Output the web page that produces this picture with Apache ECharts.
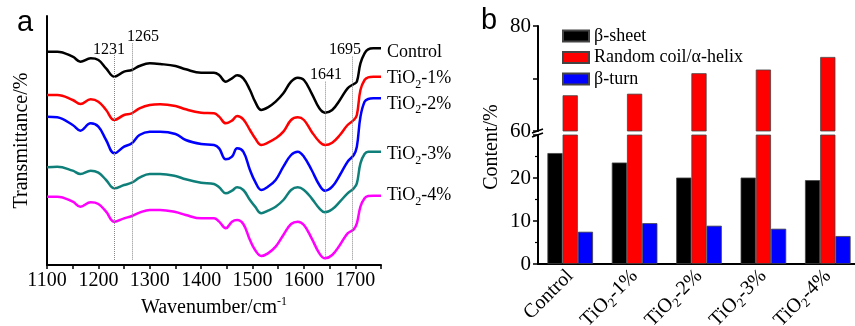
<!DOCTYPE html>
<html>
<head>
<meta charset="utf-8">
<script src="https://cdn.jsdelivr.net/npm/echarts@6/dist/echarts.min.js"></script>
<style>
  html, body { margin: 0; padding: 0; background: #fff; }
  #main { width: 855px; height: 326px; }
</style>
</head>
<body>
<div id="main"></div>
<script>
// panel a: FTIR spectra (transmittance, arbitrary offset units)
const wavenumbers = [1100, 1120, 1150, 1165, 1185, 1200, 1215, 1231, 1250, 1265, 1280, 1300, 1320, 1350, 1370, 1400, 1425, 1435, 1448, 1460, 1470, 1482, 1495, 1505, 1517, 1530, 1545, 1560, 1575, 1588, 1600, 1615, 1630, 1641, 1655, 1670, 1685, 1697, 1703, 1710, 1718, 1725, 1735, 1750];
const control = [645, 645, 630, 615, 625, 620, 595, 570, 585, 590, 602, 610, 608, 602, 592, 582, 582, 575, 555, 565, 574, 565, 530, 495, 470, 478, 495, 520, 555, 567, 560, 520, 475, 462, 470, 500, 535, 548, 555, 610, 640, 652, 655, 655];
const tio1 = [515, 515, 500, 488, 502, 495, 470, 440, 455, 460, 475, 485, 487, 482, 472, 462, 460, 450, 430, 438, 452, 442, 410, 385, 365, 372, 385, 405, 440, 448, 440, 405, 375, 365, 372, 395, 425, 440, 455, 530, 560, 568, 570, 570];
const tio2 = [450, 448, 425, 408, 430, 420, 380, 340, 360, 370, 395, 405, 405, 398, 380, 368, 365, 355, 322, 330, 355, 345, 290, 255, 230, 240, 260, 300, 335, 345, 330, 290, 245, 228, 240, 275, 315, 335, 360, 450, 495, 503, 505, 505];
const tio3 = [298, 300, 288, 278, 288, 282, 260, 235, 245, 252, 267, 278, 278, 272, 262, 252, 248, 238, 220, 228, 238, 230, 200, 180, 160, 168, 180, 200, 230, 238, 230, 205, 175, 163, 172, 195, 220, 235, 250, 310, 338, 345, 345, 345];
const tio4 = [210, 210, 195, 180, 193, 188, 165, 135, 145, 152, 162, 170, 170, 164, 155, 145, 145, 135, 115, 135, 140, 128, 80, 50, 32, 40, 60, 95, 128, 135, 125, 85, 40, 25, 35, 65, 100, 112, 130, 180, 205, 212, 213, 213];
const peaks = [1231, 1265, 1641, 1695];
const peakTops = [635, 670, 555, 630];

// panel b: secondary structure content (%)
const groups = ['Control', 'TiO2-1%', 'TiO2-2%', 'TiO2-3%', 'TiO2-4%'];
const sheet = [25.8, 23.6, 20.1, 20.1, 19.5];
const coil = [66.8, 67.1, 71.0, 71.7, 74.1];
const turn = [7.5, 9.5, 8.9, 8.2, 6.5];

const serif = 'Liberation Serif';
const sampleName = s => s.startsWith('TiO2') ? '{a|TiO}{s|2}{a|' + s.slice(4) + '}' : '{a|' + s + '}';

const chart = echarts.init(document.getElementById('main'), null, { renderer: 'canvas' });

function spectrum(name, arr, color, dy) {
  return {
    name: name,
    type: 'line',
    xAxisIndex: 0,
    yAxisIndex: 0,
    data: wavenumbers.map((w, i) => [w, arr[i]]),
    smooth: 0.4,
    showSymbol: false,
    lineStyle: { color: color, width: 2.5 },
    itemStyle: { color: color },
    endLabel: {
      show: true,
      distance: 6,
      offset: [0, dy],
      formatter: () => sampleName(name),
      rich: {
        a: { fontFamily: serif, fontSize: 18, color: '#000' },
        s: { fontFamily: serif, fontSize: 12, color: '#000', padding: [12, 0, 0, 0] }
      }
    }
  };
}

const barBorder = { borderColor: '#444', borderWidth: 0.8 };
const axisFont = { fontFamily: serif, color: '#000' };

const series = [
  spectrum('Control', control, '#000000', 4),
  spectrum('TiO2-1%', tio1, '#ff0000', 2),
  spectrum('TiO2-2%', tio2, '#0000ff', 6),
  spectrum('TiO2-3%', tio3, '#0f7f7a', 3),
  spectrum('TiO2-4%', tio4, '#ff00ff', 0),
  {
    name: 'β-sheet', type: 'bar', xAxisIndex: 2, yAxisIndex: 2, data: sheet,
    barWidth: 15.2, barGap: '0%',
    itemStyle: Object.assign({ color: '#000000' }, barBorder)
  },
  {
    name: 'Random coil/α-helix', type: 'bar', xAxisIndex: 2, yAxisIndex: 2, data: coil,
    barWidth: 15.2, barGap: '0%',
    itemStyle: Object.assign({ color: '#ff0000' }, barBorder)
  },
  {
    name: 'β-turn', type: 'bar', xAxisIndex: 2, yAxisIndex: 2, data: turn,
    barWidth: 15.2, barGap: '0%',
    itemStyle: Object.assign({ color: '#0000ff' }, barBorder)
  },
  {
    name: 'Random coil/α-helix', type: 'bar', xAxisIndex: 1, yAxisIndex: 1, data: coil,
    barWidth: 15.2,
    itemStyle: Object.assign({ color: '#ff0000' }, barBorder)
  }
];

// dotted guide lines at the marked peaks
series[0].markLine = {
  silent: true,
  symbol: ['none', 'none'],
  label: { show: false },
  lineStyle: { type: 'dotted', color: '#888', width: 1 },
  data: peaks.map((p, i) => [{ coord: [p, peakTops[i]] }, { coord: [p, 20] }])
};

const option = {
  animation: false,
  backgroundColor: '#fff',
  grid: [
    { left: 47, top: 16, width: 334, height: 249, outerBoundsMode: 'none' },
    { left: 538, top: 26, width: 322, height: 105, outerBoundsMode: 'none' },
    { left: 538, top: 135, width: 322, height: 129, outerBoundsMode: 'none' }
  ],
  legend: {
    data: ['β-sheet', 'Random coil/α-helix', 'β-turn'],
    orient: 'vertical',
    left: 557,
    top: 22,
    itemWidth: 26,
    itemHeight: 11,
    itemGap: 3.5,
    icon: 'rect',
    textStyle: { fontFamily: serif, fontSize: 18, color: '#000' }
  },
  xAxis: [
    {
      gridIndex: 0, type: 'value', min: 1100, max: 1750, interval: 50,
      axisLine: { lineStyle: { color: '#000', width: 2 } },
      axisTick: { show: true, length: 4, lineStyle: { color: '#000', width: 1.5 } },
      splitLine: { show: false },
      axisLabel: Object.assign({
        fontSize: 20, margin: 6,
        formatter: v => (v % 100 === 0 && v <= 1700) ? String(v) : ''
      }, axisFont),
      name: '{a|Wavenumber/cm}{p|-1}',
      nameLocation: 'middle',
      nameGap: 31,
      nameTextStyle: {
        rich: {
          a: { fontFamily: serif, fontSize: 20, color: '#000' },
          p: { fontFamily: serif, fontSize: 12, color: '#000', padding: [0, 0, 12, 0] }
        }
      }
    },
    {
      gridIndex: 1, type: 'category', data: groups, show: false
    },
    {
      gridIndex: 2, type: 'category', data: groups,
      axisLine: { lineStyle: { color: '#000', width: 2 } },
      axisTick: { show: false },
      axisLabel: {
        rotate: 45, margin: 9, interval: 0,
        formatter: v => sampleName(v),
        rich: {
          a: { fontFamily: serif, fontSize: 20, color: '#000' },
          s: { fontFamily: serif, fontSize: 13, color: '#000', padding: [12, 0, 0, 0] }
        }
      }
    }
  ],
  yAxis: [
    {
      gridIndex: 0, type: 'value', min: 5, max: 752,
      axisLine: { show: true, lineStyle: { color: '#000', width: 2 } },
      axisTick: { show: false },
      axisLabel: { show: false },
      splitLine: { show: false },
      name: 'Transmittance/%',
      nameLocation: 'middle',
      nameGap: 15,
      nameTextStyle: Object.assign({ fontSize: 20 }, axisFont)
    },
    {
      gridIndex: 1, type: 'value', min: 60, max: 80, interval: 10,
      axisLine: { show: true, lineStyle: { color: '#000', width: 2 } },
      axisTick: { show: true, length: 5, lineStyle: { color: '#000', width: 1.5 } },
      splitLine: { show: false },
      axisLabel: Object.assign({
        fontSize: 21, margin: 7,
        formatter: v => v === 70 ? '' : String(v)
      }, axisFont)
    },
    {
      gridIndex: 2, type: 'value', min: 0, max: 30, interval: 10,
      axisLine: { show: true, lineStyle: { color: '#000', width: 2 } },
      axisTick: { show: true, length: 5, lineStyle: { color: '#000', width: 1.5 } },
      minorTick: { show: true, splitNumber: 2, length: 3, lineStyle: { color: '#000', width: 1.2 } },
      splitLine: { show: false },
      axisLabel: Object.assign({
        fontSize: 21, margin: 7,
        formatter: v => v === 30 ? '' : String(v)
      }, axisFont)
    }
  ],
  graphic: [
    { type: 'text', left: 17, top: 8, style: { text: 'a', fontFamily: 'Liberation Sans', fontSize: 29, fill: '#000' } },
    { type: 'text', left: 481, top: 6, style: { text: 'b', fontFamily: 'Liberation Sans', fontSize: 29, fill: '#000' } },
    { type: 'text', x: 109, y: 50, style: { text: '1231', fontFamily: serif, fontSize: 16, fill: '#000', align: 'center', verticalAlign: 'middle' } },
    { type: 'text', x: 143, y: 37, style: { text: '1265', fontFamily: serif, fontSize: 16, fill: '#000', align: 'center', verticalAlign: 'middle' } },
    { type: 'text', x: 326, y: 75, style: { text: '1641', fontFamily: serif, fontSize: 16, fill: '#000', align: 'center', verticalAlign: 'middle' } },
    { type: 'text', x: 345, y: 50, style: { text: '1695', fontFamily: serif, fontSize: 16, fill: '#000', align: 'center', verticalAlign: 'middle' } },
    { type: 'text', x: 492, y: 147, rotation: Math.PI / 2, style: { text: 'Content/%', fontFamily: serif, fontSize: 20, fill: '#000', align: 'center', verticalAlign: 'middle' } },
    // axis break marks
    { type: 'line', shape: { x1: 532, y1: 133, x2: 543, y2: 129 }, style: { stroke: '#000', lineWidth: 1.5 } },
    { type: 'line', shape: { x1: 532, y1: 137, x2: 543, y2: 133 }, style: { stroke: '#000', lineWidth: 1.5 } }
  ],
  series: series
};

chart.setOption(option);
</script>
</body>
</html>
